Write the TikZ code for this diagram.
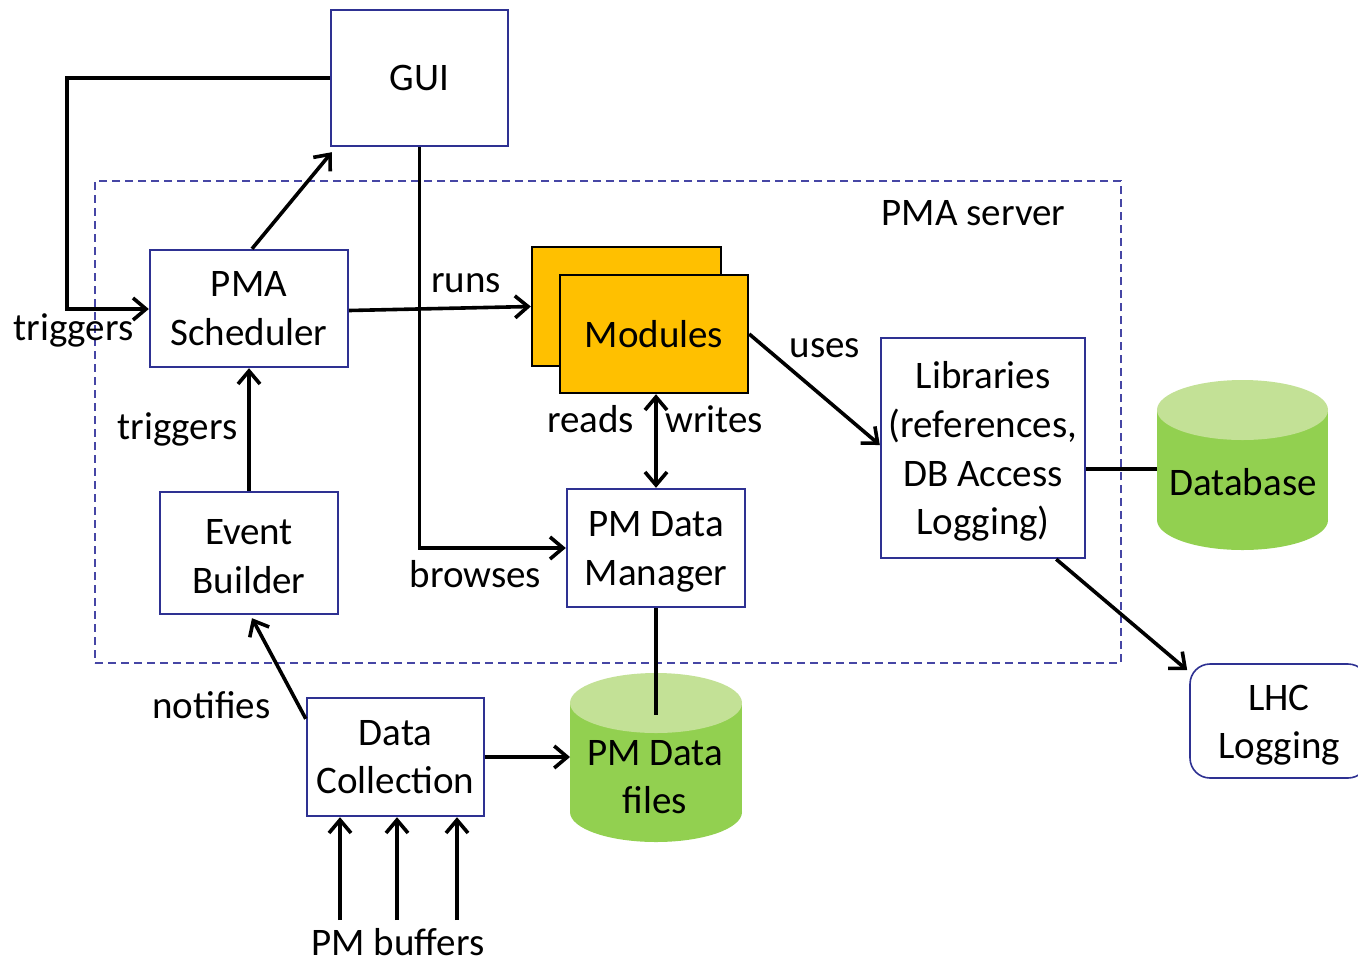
\documentclass[tikz,border=0pt]{standalone}
\usepackage{fontspec}
\setmainfont{Carlito}
\usetikzlibrary{arrows.meta,calc}
\definecolor{boxblue}{RGB}{46,49,146}
\definecolor{dashblue}{RGB}{70,70,165}
\definecolor{modfill}{RGB}{255,192,0}
\definecolor{cylbody}{RGB}{146,208,80}
\definecolor{cyltop}{RGB}{195,225,150}
\begin{document}
\begin{tikzpicture}[x=0.5pt,y=-0.5pt,
  every node/.style={font=\fontsize{19.5}{24.3}\selectfont, inner sep=0pt},
  blk/.style={draw=boxblue, line width=1.2pt, fill=white, align=center},
  txt/.style={align=center},
  modbox/.style={draw=black, line width=1.2pt, fill=modfill},
  conn/.style={draw=black, line width=1.8pt},
  arr/.style={conn, -{Straight Barb[length=6.5pt,width=11pt]}},
  dblarr/.style={conn, {Straight Barb[length=6.5pt,width=11pt]}-{Straight Barb[length=6.5pt,width=11pt]}},
  lbl/.style={anchor=base},
]
\useasboundingbox (0,0) rectangle (1358,964);
\fill[white] (0,0) rectangle (1358,964);

% PMA server region
\node[draw=dashblue, line width=0.75pt, dash pattern=on 4pt off 2.5pt,
      minimum width=513pt, minimum height=241pt] (server) at (608,422) {};
\node[lbl] (servertxt) at (973.5,225) {PMA server};

% boxes
\node[blk, minimum width=88.5pt, minimum height=68pt] (gui) at (419.5,78) {GUI};
\node[blk, minimum width=99pt, minimum height=58.5pt] (sched) at (249,308.5) {PMA\\Scheduler};
\node[blk, minimum width=89pt, minimum height=61pt] (ev) at (249,553) {};
\node[txt] (evtxt) at ($(ev)+(0,3.5)$) {Event\\Builder};
\node[blk, minimum width=88.5pt, minimum height=59pt] (dc) at (395.5,757) {Data\\Collection};
\node[blk, minimum width=89pt, minimum height=59pt] (pmdm) at (656,548) {};
\node[txt] (pmdmtxt) at ($(pmdm)+(0,4)$) {PM Data\\Manager};
\node[blk, minimum width=102pt, minimum height=110pt] (lib) at (983,448) {};
\node[txt] (libtxt) at ($(lib)+(0,3.5)$) {Libraries\\(references,\\DB Access\\Logging)};
\node[blk, line width=0.8pt, rounded corners=10pt, minimum width=89pt, minimum height=57pt] (lhc) at (1279,721) {};
\node[txt] (lhctxt) at ($(lhc)+(0,4)$) {LHC\\Logging};

% modules
\node[modbox, minimum width=94.5pt, minimum height=59.5pt] (modback) at (626.5,306.5) {};
\node[modbox, minimum width=94pt, minimum height=59pt] (modfront) at (654,334) {Modules};

% Database cylinder
\fill[cylbody] (1242.5,520) ellipse[x radius=85.5,y radius=30];
\fill[cylbody] (1157,410) rectangle (1328,520);
\fill[cyltop] (1242.5,410) ellipse[x radius=85.5,y radius=30];
\node (db) at (1243,482) {Database};
\coordinate (dbw) at (1157,469);

% PM Data files cylinder
\fill[cylbody] (656,812) ellipse[x radius=86,y radius=30];
\fill[cylbody] (570,703) rectangle (742,812);
\fill[cyltop] (656,703) ellipse[x radius=86,y radius=30];
\node[txt] (pmdf) at (655,777) {PM Data\\files};
\coordinate (pmdfw) at (570,757);
\coordinate (pmdfin) at (656,715);

% connectors
\coordinate (tl) at (67,309);
\draw[arr] (gui.west) -| (tl) -- (sched.west |- tl);
\node[lbl] (trig1) at (73.5,340) {triggers};

\draw[arr] ($(sched.north)+(3,0)$) -- ($(gui.south west)+(2,5)$);

\draw[arr] (gui.south) |- (pmdm.west);
\node[lbl] (browses) at (475.5,587) {browses};

\draw[arr] ($(sched.east)+(0,2)$) -- (modback.west);
\node[lbl] (runs) at (466,292) {runs};

\draw[dblarr] (pmdm.north) -- (pmdm.north |- modfront.south);
\node[lbl] (reads) at (590.5,432) {reads};
\node[lbl] (writes) at (714,432) {writes};

\draw[arr] (modfront.east) -- ($(lib.west)+(0,-3)$);
\node[lbl] (uses) at (825,357) {uses};

\draw[conn] (lib.east |- dbw) -- (dbw);

\draw[arr] ($(lib.south east)+(-30,0)$) -- ($(lhc.north west)+(-2,7)$);

\draw[arr] (ev.north) -- (sched.south);
\node[lbl] (trig2) at (177.5,439) {triggers};

\draw[arr] ($(dc.north west)+(0,22)$) -- ($(ev.south)+(3,3)$);
\node[lbl] (notifies) at (211.5,718) {notifies};

\draw[arr] (dc.east) -- (pmdfw);

\draw[conn] (pmdm.south) -- (pmdfin);

\node[lbl] (buf) at (398,955) {PM buffers};
\coordinate (b1) at (340,920);
\coordinate (b2) at (397,920);
\coordinate (b3) at (457,920);
\draw[arr] (b1) -- (b1 |- dc.south);
\draw[arr] (b2) -- (b2 |- dc.south);
\draw[arr] (b3) -- (b3 |- dc.south);
\end{tikzpicture}
\end{document}
